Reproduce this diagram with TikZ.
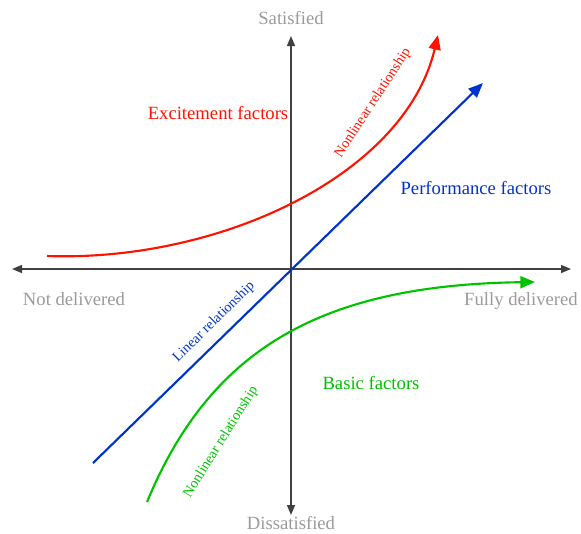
\documentclass[tikz,border=0pt]{standalone}
\usepackage{fontspec}
\setmainfont{Liberation Serif}
\usetikzlibrary{arrows.meta}
\definecolor{axisgray}{HTML}{404040}
\definecolor{labelgray}{HTML}{9A9A9A}
\definecolor{excred}{HTML}{FF1200}
\definecolor{perfblue}{HTML}{0033CC}
\definecolor{basicgreen}{HTML}{00C300}
\tikzset{
  axisline/.style={draw=axisgray, line width=1.1pt, {Triangle[length=7.5pt,width=6pt]}-{Triangle[length=7.5pt,width=6pt]}},
  curveline/.style={line width=1.6pt, -{Triangle[length=11pt,width=9pt]}},
  axislabel/.style={text=labelgray, font=\fontsize{14pt}{16pt}\selectfont, inner sep=0pt, anchor=base},
  factorlabel/.style={font=\fontsize{14pt}{16pt}\selectfont, inner sep=0pt, anchor=base},
  relationlabel/.style={font=\fontsize{10.7pt}{12pt}\selectfont, inner sep=0pt, anchor=center}
}
\begin{document}
\begin{tikzpicture}[x=0.75pt, y=-0.75pt]
  \useasboundingbox (0,0) rectangle (581,533);

  % axis end points
  \coordinate (west)  at (12,269);
  \coordinate (east)  at (571,269);
  \coordinate (north) at (291,36);
  \coordinate (south) at (291,515);

  % axes
  \draw[axisline] (west) -- (east);
  \draw[axisline] (south) -- (north);

  % axis labels
  \node[axislabel] (satisfied)    at (291,24)  {Satisfied};
  \node[axislabel] (dissatisfied) at (291,529) {Dissatisfied};
  \node[axislabel] (notdelivered) at (74,305)  {Not delivered};
  \node[axislabel] (fullydelivered) at (521,305) {Fully delivered};

  % performance factors: linear
  \coordinate (perfstart) at (93,463);
  \coordinate (perfend)   at (483,83);
  \draw[curveline, perfblue] (perfstart) -- (perfend);

  % excitement factors: nonlinear, rising
  \coordinate (excstart) at (47,256);
  \coordinate (excend)   at (438,35);
  \draw[curveline, excred] (excstart) .. controls (220,262) and (405,175) .. (excend);

  % basic factors: nonlinear, saturating
  \coordinate (basicstart) at (147,502);
  \coordinate (basicend)   at (535,282);
  \draw[curveline, basicgreen] (basicstart) .. controls (210,350) and (320,285) .. (basicend);

  % factor labels
  \node[factorlabel, text=excred]     (excitement)  at (218,119) {Excitement factors};
  \node[factorlabel, text=perfblue]   (performance) at (476,194) {Performance factors};
  \node[factorlabel, text=basicgreen] (basic)       at (371,389) {Basic factors};

  % relationship labels along the curves
  \node[relationlabel, text=excred, rotate=57]     (excrel)   at (373,103) {Nonlinear relationship};
  \node[relationlabel, text=perfblue, rotate=44.6] (perfrel)  at (214,322) {Linear relationship};
  \node[relationlabel, text=basicgreen, rotate=58] (basicrel) at (221,442) {Nonlinear relationship};
\end{tikzpicture}
\end{document}
